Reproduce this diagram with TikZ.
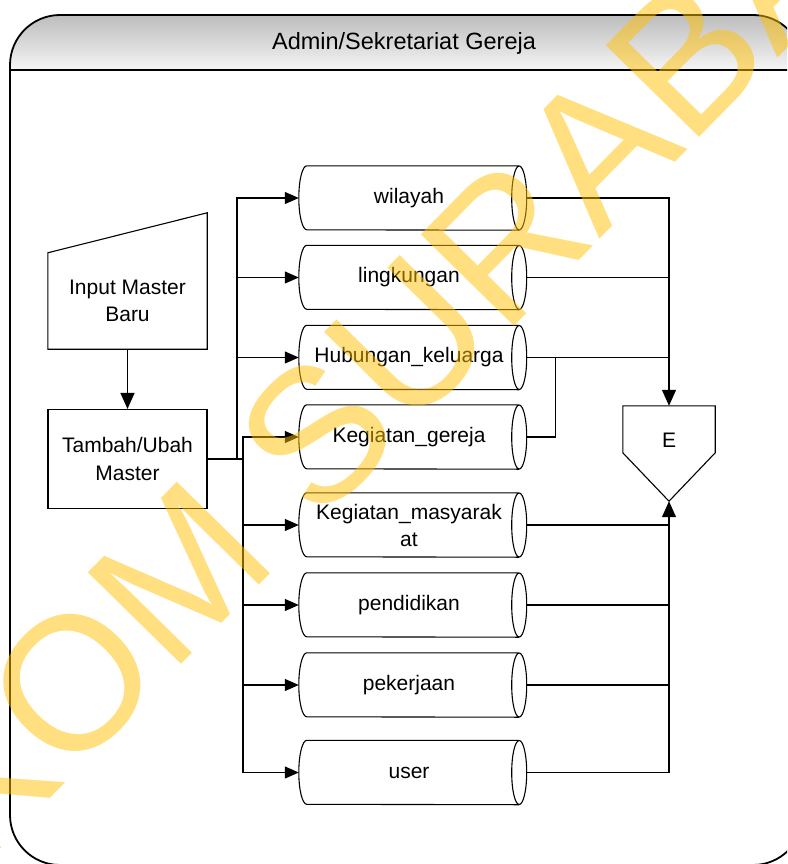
\documentclass[tikz,border=0pt]{standalone}
\usepackage{fontspec}
\setmainfont{Liberation Sans}
\newfontfamily\wmfont[Kerning=Off]{Liberation Sans}
\usetikzlibrary{arrows.meta,calc}
\definecolor{wm}{HTML}{FFC000}
\begin{document}
\begin{tikzpicture}[x=1pt,y=-1pt,
  ln/.style={line width=1.1pt, draw=black},
  lbl/.style={inner sep=0pt, align=center, font=\fontsize{21}{27.5}\selectfont},
  box/.style={lbl, draw=black, line width=1.1pt},
  drum/.style={lbl, minimum width=220pt, minimum height=64pt, font=\fontsize{21}{27}\selectfont},
  arr/.style={ln, -{Triangle[length=14pt,width=12pt]}},
  big/.style={ln, -{Triangle[length=16pt,width=14pt]}},
]
\useasboundingbox (0,0) rectangle (787,864);
\clip (0,0) rectangle (787,864);

% frame with shaded header
\begin{scope}
  \clip[rounded corners=50pt] (10,15) rectangle (803,865);
  \shade[top color=black!26, bottom color=black!4] (10,15) rectangle (803,70);
\end{scope}
\draw[line width=1.8pt, rounded corners=50pt] (10,15) rectangle (803,865);
\draw[line width=1.8pt] (10,70) -- (803,70);
\node[inner sep=0pt, font=\fontsize{23.5}{28}\selectfont] (title) at (404,43) {Admin/Sekretariat Gereja};

% left side
\node[lbl, minimum width=159pt, minimum height=96pt] (im) at (127.5,301) {Input Master\\Baru};
\draw[ln] (im.north west) -- ([yshift=40pt]im.north east) -- (im.south east) -- (im.south west) -- cycle;
\node[box, minimum width=159pt, minimum height=99pt] (t) at (127.5,459) {Tambah/Ubah\\Master};
\draw[big] (im.south) -- (t.north);

% storage drums
\newcommand\drumshape[1]{%
  \draw[ln] ([xshift=8pt]#1.north west) -- (#1.north east)
    (#1.east) ellipse[x radius=7.5, y radius=32]
    ([xshift=8pt]#1.north west) arc[start angle=270, end angle=90, x radius=8, y radius=32] -- (#1.south east);}
\node[drum] (w)  at (409,198)   {wilayah};
\node[drum] (l)  at (409,277.5) {lingkungan};
\node[drum] (h)  at (409,357.5) {Hubungan\_keluarga};
\node[drum] (kg) at (409,437)   {Kegiatan\_gereja};
\node[drum] (km) at (409,525)   {Kegiatan\_masyarak\\at};
\node[drum] (pd) at (409,605)   {pendidikan};
\node[drum] (pk) at (409,685)   {pekerjaan};
\node[drum] (u)  at (409,772.5) {user};
\drumshape{w}\drumshape{l}\drumshape{h}\drumshape{kg}
\drumshape{km}\drumshape{pd}\drumshape{pk}\drumshape{u}

% buses
\coordinate (j1) at (237,459);
\coordinate (j2) at (243,459);
\draw[line width=2pt] (t.east) -- (j2);
\draw[arr] (j1) |- (w.west);
\draw[arr] (j1) |- (l.west);
\draw[arr] (j1) |- (h.west);
\draw[arr] (j2) |- (kg.west);
\draw[arr] (j2) |- (km.west);
\draw[arr] (j2) |- (pd.west);
\draw[arr] (j2) |- (pk.west);
\draw[arr] (j2) |- (u.west);

% off-page connector E
\node[inner sep=0pt, minimum width=92pt, minimum height=95pt] (E) at (669,453.5) {};
\draw[ln] (E.north west) -- (E.north east) -- ([yshift=-47pt]E.north east) -- (E.south)
  -- ([yshift=-47pt]E.north west) -- cycle;
\node[lbl] (Et) at (669,440) {E};

% right side connectors
\draw[big] ([xshift=7.5pt]w.east) -| (E.north);
\draw[ln] ([xshift=7.5pt]l.east) -- (l.east -| E.north);
\draw[ln] ([xshift=7.5pt]h.east) -- (h.east -| E.north);
\draw[ln] ([xshift=7.5pt]kg.east) -| ($(h.east)+(36,0)$);
\draw[big] ([xshift=7.5pt]u.east) -| (E.south);
\draw[ln] ([xshift=7.5pt]km.east) -- (km.east -| E.south);
\draw[ln] ([xshift=7.5pt]pd.east) -- (pd.east -| E.south);
\draw[ln] ([xshift=7.5pt]pk.east) -- (pk.east -| E.south);

% watermark
\node[rotate=45.5, inner sep=0pt, text=wm, text opacity=0.5, font=\wmfont\fontsize{190}{190}\selectfont] (wmk) at (361,389) {STIKOM SURABAYA};
\end{tikzpicture}
\end{document}
